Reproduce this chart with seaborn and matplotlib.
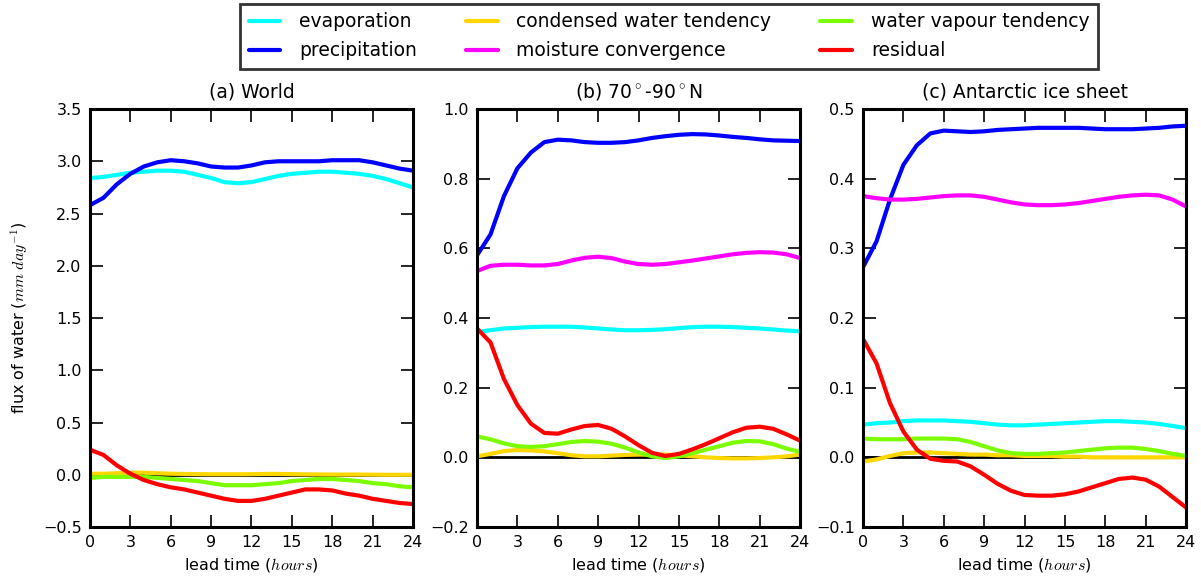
import numpy as np
import pandas as pd
import matplotlib
matplotlib.use("Agg")
import matplotlib.pyplot as plt
import seaborn as sns

sns.set_style("white")
plt.rcParams["font.family"] = ["DejaVu Sans"]
plt.rcParams["mathtext.fontset"] = "cm"
for key in ["text.color", "axes.labelcolor", "xtick.color", "ytick.color"]:
    plt.rcParams[key] = "black"

hours = list(range(25))
series_names = ["evaporation", "precipitation", "condensed water tendency",
                "moisture convergence", "water vapour tendency", "residual"]
colours = ["#00ffff", "#0000ff", "#ffd700", "#ff00ff", "#7cfc00", "#ff0000"]

# (a) World
world_evap = [2.84, 2.85, 2.87, 2.89, 2.90, 2.91, 2.91, 2.90, 2.87, 2.84, 2.80, 2.79, 2.80,
              2.83, 2.86, 2.88, 2.89, 2.90, 2.90, 2.89, 2.88, 2.86, 2.83, 2.79, 2.75]
world_prec = [2.58, 2.65, 2.78, 2.88, 2.95, 2.99, 3.01, 3.00, 2.98, 2.95, 2.94, 2.94, 2.96,
              2.99, 3.00, 3.00, 3.00, 3.00, 3.01, 3.01, 3.01, 2.99, 2.96, 2.93, 2.91]
world_cond = [0.01, 0.01, 0.015, 0.02, 0.02, 0.015, 0.01, 0.008, 0.006, 0.005, 0.005, 0.005, 0.006,
              0.008, 0.008, 0.006, 0.004, 0.003, 0.002, 0.002, 0.002, 0.001, 0.0, 0.0, 0.0]
world_conv = [np.nan] * 25
world_vap = [-0.03, -0.02, -0.02, -0.02, -0.02, -0.03, -0.04, -0.05, -0.06, -0.08, -0.10, -0.10, -0.10,
             -0.09, -0.08, -0.06, -0.05, -0.04, -0.04, -0.05, -0.06, -0.08, -0.09, -0.11, -0.12]
world_res = [0.24, 0.19, 0.09, 0.01, -0.05, -0.09, -0.12, -0.14, -0.17, -0.20, -0.23, -0.25, -0.25,
             -0.23, -0.20, -0.17, -0.14, -0.14, -0.15, -0.18, -0.20, -0.23, -0.25, -0.27, -0.28]

# (b) 70-90N
arctic_evap = [0.36, 0.365, 0.37, 0.372, 0.374, 0.375, 0.375, 0.375, 0.373, 0.37, 0.367, 0.365, 0.365,
               0.366, 0.368, 0.371, 0.374, 0.375, 0.375, 0.374, 0.372, 0.37, 0.367, 0.364, 0.362]
arctic_prec = [0.58, 0.64, 0.75, 0.83, 0.875, 0.905, 0.912, 0.91, 0.905, 0.903, 0.903, 0.905, 0.91,
               0.917, 0.922, 0.926, 0.928, 0.927, 0.924, 0.92, 0.917, 0.913, 0.91, 0.909, 0.908]
arctic_cond = [0.003, 0.01, 0.018, 0.021, 0.02, 0.017, 0.012, 0.006, 0.003, 0.003, 0.005, 0.007, 0.008,
               0.008, 0.008, 0.006, 0.003, 0.0, -0.002, -0.003, -0.003, -0.002, 0.0, 0.003, 0.008]
arctic_conv = [0.535, 0.55, 0.553, 0.553, 0.551, 0.551, 0.555, 0.565, 0.573, 0.576, 0.572, 0.562, 0.555,
               0.553, 0.555, 0.56, 0.565, 0.571, 0.577, 0.583, 0.587, 0.589, 0.588, 0.583, 0.572]
arctic_vap = [0.06, 0.052, 0.04, 0.032, 0.03, 0.032, 0.038, 0.044, 0.047, 0.045, 0.039, 0.028, 0.014,
              0.003, -0.002, 0.003, 0.012, 0.022, 0.032, 0.042, 0.047, 0.046, 0.038, 0.025, 0.016]
arctic_res = [0.37, 0.33, 0.225, 0.15, 0.097, 0.07, 0.068, 0.08, 0.09, 0.093, 0.082, 0.06, 0.035,
              0.013, 0.004, 0.01, 0.023, 0.038, 0.055, 0.072, 0.085, 0.088, 0.082, 0.066, 0.048]

# (c) Antarctic ice sheet
ant_evap = [0.047, 0.049, 0.05, 0.052, 0.053, 0.053, 0.053, 0.052, 0.051, 0.049, 0.047, 0.046, 0.046,
            0.047, 0.048, 0.049, 0.05, 0.051, 0.052, 0.052, 0.051, 0.05, 0.048, 0.045, 0.042]
ant_prec = [0.273, 0.31, 0.37, 0.42, 0.448, 0.465, 0.469, 0.468, 0.467, 0.468, 0.47, 0.471, 0.472,
            0.473, 0.473, 0.473, 0.473, 0.472, 0.471, 0.471, 0.471, 0.472, 0.473, 0.475, 0.476]
ant_cond = [-0.006, -0.003, 0.002, 0.006, 0.007, 0.007, 0.006, 0.005, 0.004, 0.004, 0.003, 0.003, 0.002,
            0.002, 0.002, 0.001, 0.001, 0.0, 0.0, 0.0, 0.0, 0.0, 0.0, 0.0, 0.0]
ant_conv = [0.375, 0.372, 0.37, 0.37, 0.371, 0.373, 0.375, 0.376, 0.376, 0.374, 0.37, 0.366, 0.363,
            0.362, 0.362, 0.363, 0.365, 0.368, 0.371, 0.374, 0.376, 0.377, 0.376, 0.37, 0.36]
ant_vap = [0.027, 0.026, 0.026, 0.026, 0.027, 0.027, 0.027, 0.026, 0.022, 0.016, 0.01, 0.006, 0.005,
           0.005, 0.006, 0.007, 0.009, 0.011, 0.013, 0.014, 0.014, 0.012, 0.009, 0.005, 0.002]
ant_res = [0.17, 0.135, 0.078, 0.037, 0.011, -0.002, -0.005, -0.006, -0.013, -0.025, -0.038, -0.048, -0.054,
           -0.055, -0.055, -0.053, -0.049, -0.043, -0.037, -0.031, -0.029, -0.032, -0.042, -0.057, -0.072]

panels = [
    ("(a) World", [world_evap, world_prec, world_cond, world_conv, world_vap, world_res],
     (-0.5, 3.5), np.arange(-0.5, 3.51, 0.5)),
    ("(b) 70$^\\circ$-90$^\\circ$N", [arctic_evap, arctic_prec, arctic_cond, arctic_conv, arctic_vap, arctic_res],
     (-0.2, 1.0), np.arange(-0.2, 1.01, 0.2)),
    ("(c) Antarctic ice sheet", [ant_evap, ant_prec, ant_cond, ant_conv, ant_vap, ant_res],
     (-0.1, 0.5), np.arange(-0.1, 0.51, 0.1)),
]

fig = plt.figure(figsize=(12.01, 5.83), dpi=100)
lefts = [0.0749, 0.3972, 0.7186]
axes = []
for left, (title, vals, ylim, yticks) in zip(lefts, panels):
    ax = fig.add_axes([left, 0.096, 0.269, 0.717])
    rows = []
    for name, v in zip(series_names, vals):
        for h, y in zip(hours, v):
            rows.append({"hour": h, "flux": y, "series": name})
    df = pd.DataFrame(rows)
    ax.axhline(0, color="black", lw=2, zorder=1)
    sns.lineplot(data=df, x="hour", y="flux", hue="series", hue_order=series_names,
                 palette=colours, lw=3, ax=ax, zorder=2)
    ax.set_xlim(0, 24)
    ax.set_ylim(*ylim)
    ax.set_xticks(range(0, 25, 3))
    ax.set_yticks(yticks)
    labels = ["%.1f" % t if abs(t) > 1e-9 else "0.0" for t in yticks]
    ax.set_yticklabels([l.replace("-", "\u2212") for l in labels])
    ax.tick_params(direction="in", length=9, width=1.2, top=True, right=True,
                   labelsize=11.5, pad=6, bottom=True, left=True)
    for sp in ax.spines.values():
        sp.set_linewidth(2.2)
        sp.set_color("black")
    ax.set_title(title, fontsize=13.5, pad=8)
    ax.set_xlabel("lead time ($hours$)", fontsize=11.5)
    ax.set_ylabel("")
    ax.get_legend().remove()
    axes.append(ax)

axes[0].set_ylabel("flux of water ($mm\\ day^{-1}$)", fontsize=11.5, labelpad=9)

handles, labels = axes[1].get_legend_handles_labels()
leg = fig.legend(handles, labels, loc="upper center", bbox_to_anchor=(0.557, 1.0),
                 ncol=3, fontsize=13.5, frameon=True, fancybox=False,
                 handlelength=1.7, handletextpad=1.0, columnspacing=2.6,
                 borderpad=0.45, labelspacing=0.55, borderaxespad=0.2)
leg.get_frame().set_edgecolor("black")
leg.get_frame().set_linewidth(2)

fig.savefig("out.png", dpi=100)
